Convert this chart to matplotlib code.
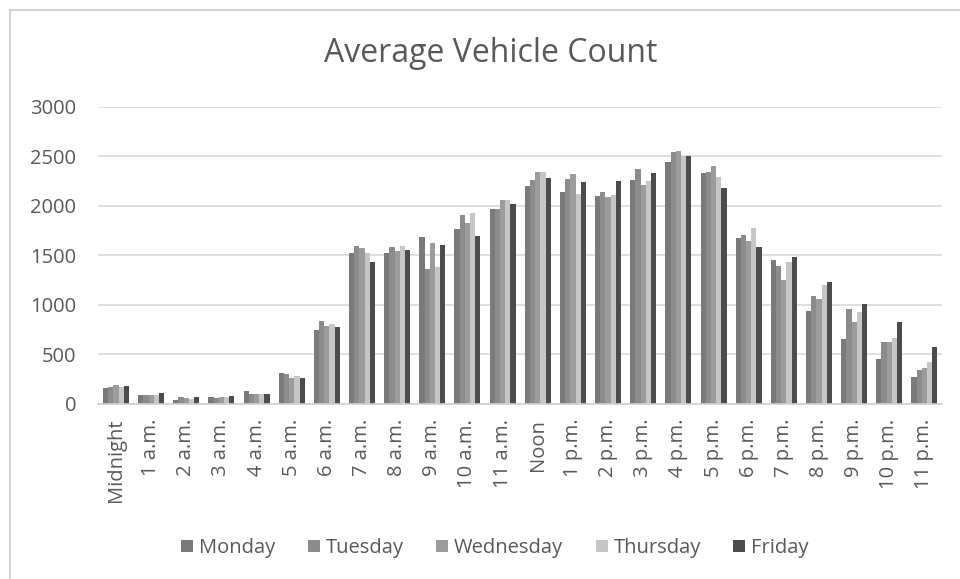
import matplotlib
matplotlib.use("Agg")
import matplotlib.pyplot as plt
import numpy as np
from matplotlib.patches import Rectangle

categories = ["Midnight", "1 a.m.", "2 a.m.", "3 a.m.", "4 a.m.", "5 a.m.", "6 a.m.",
              "7 a.m.", "8 a.m.", "9 a.m.", "10 a.m.", "11 a.m.", "Noon",
              "1 p.m.", "2 p.m.", "3 p.m.", "4 p.m.", "5 p.m.", "6 p.m.", "7 p.m.",
              "8 p.m.", "9 p.m.", "10 p.m.", "11 p.m."]

monday    = [159, 84, 34, 64, 125, 307, 743, 1527, 1523, 1686, 1767, 1966, 2196,
             2142, 2101, 2263, 2446, 2331, 1672, 1453, 936, 649, 446, 270]
tuesday   = [166, 84, 61, 54, 95, 297, 838, 1594, 1584, 1365, 1905, 1966, 2263,
             2270, 2135, 2371, 2540, 2344, 1709, 1388, 1084, 959, 622, 341]
wednesday = [186, 84, 51, 64, 98, 263, 787, 1574, 1540, 1621, 1824, 2061, 2344,
             2327, 2091, 2213, 2554, 2405, 1645, 1253, 1061, 828, 622, 358]
thursday  = [162, 84, 44, 64, 98, 277, 804, 1520, 1594, 1382, 1929, 2064, 2344,
             2121, 2111, 2250, 2500, 2290, 1773, 1429, 1199, 922, 662, 416]
friday    = [179, 105, 61, 78, 98, 263, 770, 1429, 1557, 1605, 1692, 2020, 2280,
             2240, 2250, 2331, 2506, 2179, 1584, 1486, 1230, 1007, 824, 571]

series_names = ["Monday", "Tuesday", "Wednesday", "Thursday", "Friday"]
series = [monday, tuesday, wednesday, thursday, friday]
colors = ["#7a7a7a", "#8c8c8c", "#9c9c9c", "#c6c6c6", "#4c4c4c"]
yticks = [0, 500, 1000, 1500, 2000, 2500, 3000]

font = ["Open Sans", "DejaVu Sans"]
plt.rcParams["font.family"] = font

W, H = 960, 579
fig = plt.figure(figsize=(W / 100, H / 100), dpi=100)
ax = fig.add_axes([98.4 / W, 1 - 403.5 / H, (942 - 98.4) / W, (403.5 - 107) / H])

x = np.arange(len(categories))
bw = 0.148
for i, (name, vals, c) in enumerate(zip(series_names, series, colors)):
    ax.bar(x + (i - 2) * bw, vals, width=bw, color=c, label=name, zorder=3)

ax.set_xlim(-0.5, len(categories) - 0.5)
ax.set_ylim(0, 3000)
ax.set_yticks(yticks)
ax.set_yticklabels([str(v) for v in yticks])
ax.set_xticks(x)
ax.set_xticklabels(categories, rotation=90)
ax.grid(axis="y", color="#d9d9d9", linewidth=1.2, zorder=0)
for s in ["top", "right", "left"]:
    ax.spines[s].set_visible(False)
ax.spines["bottom"].set_color("#d0d0d0")
ax.spines["bottom"].set_linewidth(1.2)
ax.spines["bottom"].set_zorder(4)
ax.tick_params(axis="both", length=0, labelsize=14.5, colors="#595959")
ax.tick_params(axis="y", pad=16)
ax.tick_params(axis="x", pad=11)

fig.text(491 / W, 1 - 53 / H, "Average Vehicle Count", ha="center", va="center",
         fontsize=23, color="#595959")

leg = fig.legend(loc="center", bbox_to_anchor=(495 / W, 1 - 548 / H), ncol=5,
                 frameon=False, fontsize=14.5, handlelength=0.6, handleheight=0.6,
                 handletextpad=0.3, columnspacing=1.6)
for t in leg.get_texts():
    t.set_color("#595959")

fig.patches.append(Rectangle((10 / W, -0.1), 2, 1 - 10 / H + 0.1,
                             transform=fig.transFigure, fill=False,
                             edgecolor="#c8c8c8", linewidth=1.2))

fig.savefig("out.png", dpi=100)
